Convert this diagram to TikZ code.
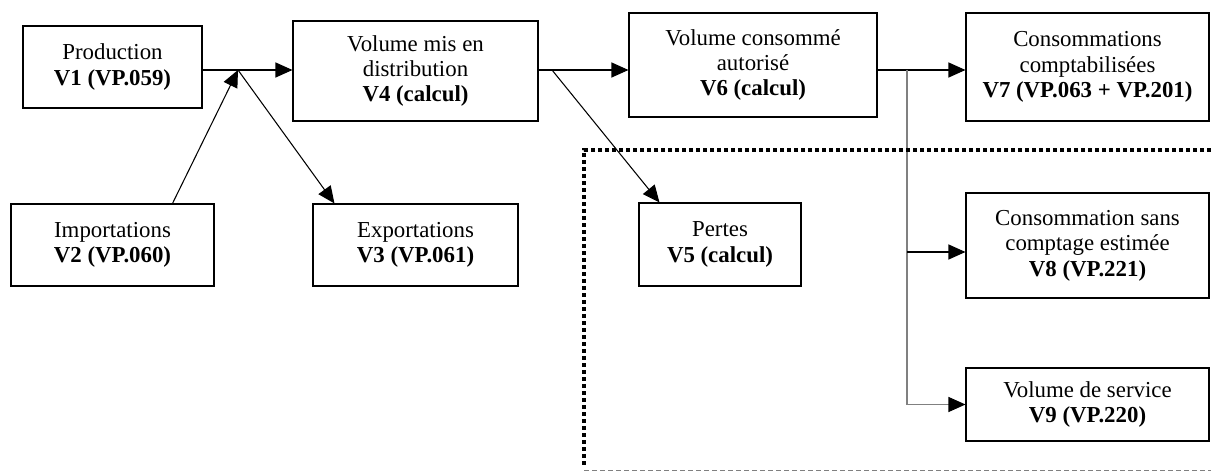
\documentclass[tikz,border=0pt]{standalone}
\usepackage{fontspec}
\setmainfont{Liberation Serif}
\usepackage{tikz}
\usetikzlibrary{arrows.meta, positioning, calc}
\tikzset{
	box/.style={
		draw,
		align=center,
		line width=0.6pt,
		inner sep=2pt,
		font=\fontsize{13}{14.5}\selectfont
	},
	arrow/.style={
		-{Triangle[length=3.4mm, width=3mm]},
		line width=0.6pt
	},
	grayarrow/.style={
		-{Triangle[length=3.4mm, width=3mm, color=black]},
		line width=0.6pt,
		gray
	}
}

\begin{document}
\begin{tikzpicture}[x=0.2mm, y=-0.2mm]
	\useasboundingbox (0,0) rectangle (1211,473);
	
	% Les boîtes du haut
	\node[box, minimum width=35.8mm, minimum height=16.4mm] (V1) at (112.5,67) {Production\\\textbf{V1 (VP.059)}};
	\node[box, minimum width=49mm, minimum height=20mm] (V4) at (415.5,71) {Volume mis en\\distribution\\\textbf{V4 (calcul)}};
	\node[box, minimum width=49.6mm, minimum height=20.8mm] (V6) at (753,65) {Volume consommé\\autorisé\\\textbf{V6 (calcul)}};
	\node[box, minimum width=48.6mm, minimum height=21.6mm] (V7) at (1087.5,67) {Consommations\\comptabilisées\\\textbf{V7 (VP.063 + VP.201)}};
	
	% Les boîtes du bas
	\node[box, minimum width=40.6mm, minimum height=16.4mm] (V2) at (112.5,245) {Importations\\\textbf{V2 (VP.060)}};
	\node[box, minimum width=41mm, minimum height=16.4mm] (V3) at (415.5,245) {Exportations\\\textbf{V3 (VP.061)}};
	\node[box, minimum width=32.4mm, minimum height=16.6mm] (V5) at (720,244.5) {Pertes\\\textbf{V5 (calcul)}};
	\node[box, minimum width=48.6mm, minimum height=21mm] (V8) at (1087.5,245.5) {Consommation sans\\comptage estimée\\\textbf{V8 (VP.221)}};
	\node[box, minimum width=48.6mm, minimum height=14.6mm] (V9) at (1087.5,404.5) {Volume de service\\\textbf{V9 (VP.220)}};
	
	%--- Points de jonction ---
	\coordinate (J1) at (238,70);
	\coordinate (J2) at (552,70);
	\coordinate (J3) at (907,70);
	\path (V8.west) ++(0,6.5) coordinate (V8in);
	
	%--- Liaisons ---
	\draw[line width=0.6pt] (J1 -| V1.east) -- (J1);
	\draw[arrow] (J1) -- (J1 -| V4.west);
	\draw[arrow] (V2.north) ++(60,0) -- (J1);
	\draw[arrow] (J1) -- ($(V3.north west)+(22,0)$);
	
	\draw[line width=0.6pt] (J2 -| V4.east) -- (J2);
	\draw[arrow] (J2) -- (J2 -| V6.west);
	\draw[arrow] (J2) -- ($(V5.north west)+(21,0)$);
	
	\draw[line width=0.6pt] (J3 -| V6.east) -- (J3);
	\draw[arrow] (J3) -- (J3 -| V7.west);
	\draw[grayarrow] (J3) |- (V9.west);
	\draw[arrow] (J3 |- V8in) -- (V8in);
	
	%--- Cadre des pertes ---
	\coordinate (F1) at (1211,150);
	\coordinate (F2) at (584,150);
	\coordinate (F3) at (584,466);
	\coordinate (F4) at (584,470);
	\coordinate (F5) at (1211,470);
	\draw[line width=0.8mm, dash pattern=on 0.8mm off 0.6mm] (F1) -- (F2) -- (F3);
	\draw[gray, line width=0.4pt, dash pattern=on 1mm off 0.6mm] (F4) -- (F5);
\end{tikzpicture}
\end{document}
